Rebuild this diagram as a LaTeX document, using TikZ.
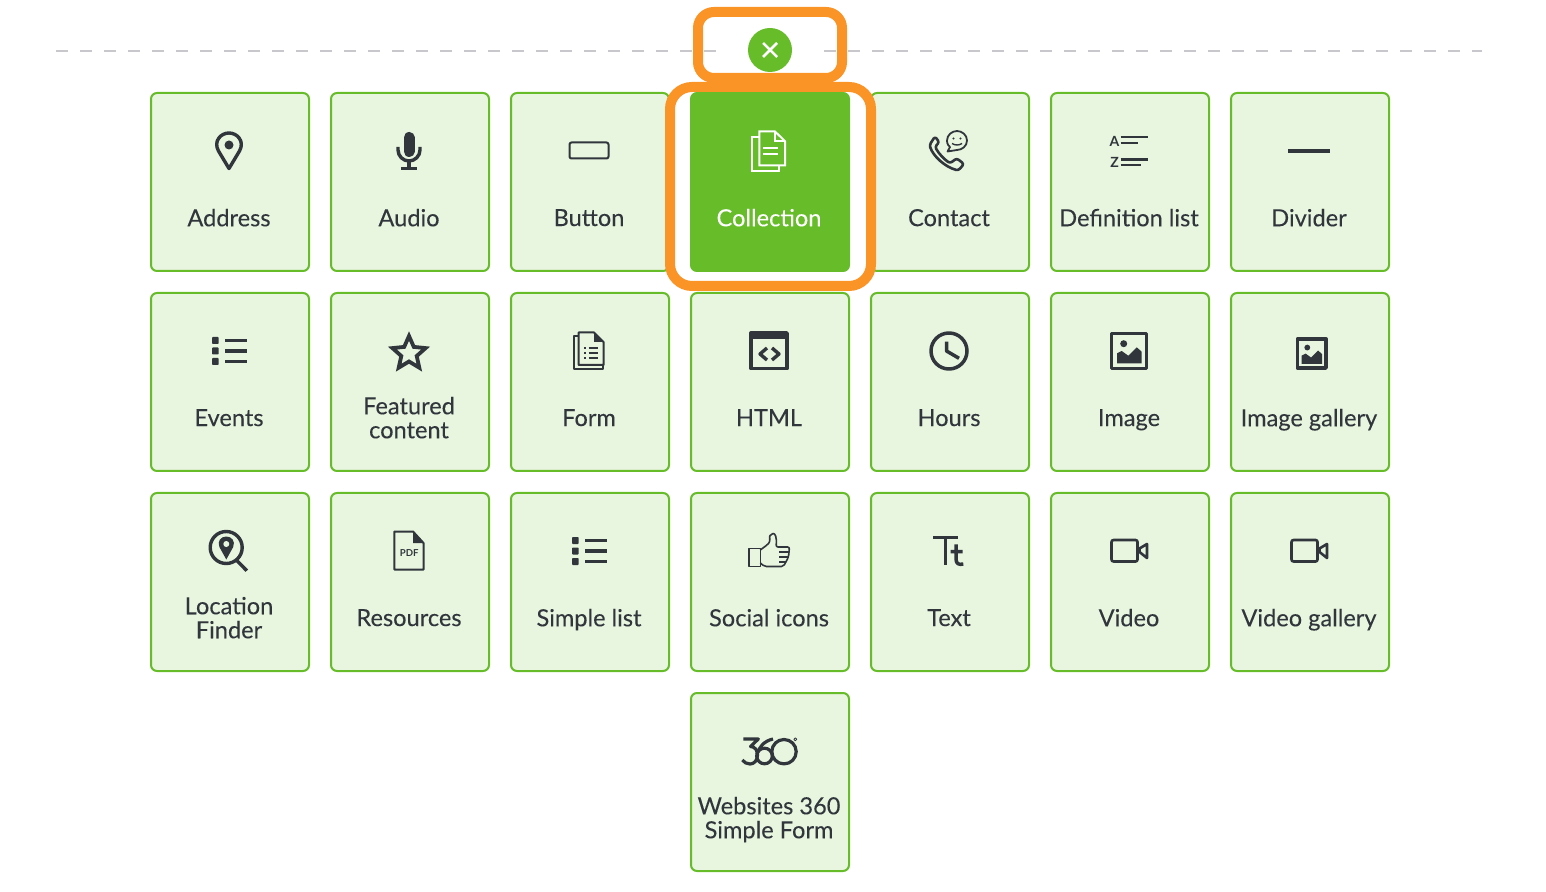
\documentclass[tikz,border=0pt]{standalone}
\usepackage{fontspec}
\setmainfont{Lato}
\newfontfamily\tilefont{Lato}[FakeBold=0.12]
\usetikzlibrary{positioning}
\definecolor{tilegreen}{HTML}{66BC29}
\definecolor{tilepale}{HTML}{E8F5DF}
\definecolor{calloutorange}{HTML}{FB9426}
\definecolor{inkdark}{HTML}{31363C}
\definecolor{rulegrey}{HTML}{C8C8CC}
\tikzstyle{tiletext} = [font=\tilefont\fontsize{11.8pt}{12pt}\selectfont, text=inkdark, align=center,
xshift=-0.5pt, yshift=-19.6pt, execute at begin node=\strut, execute at end node=\strut]
\tikzstyle{tile} = [rectangle, draw=tilegreen, fill=tilepale, line width=1pt, rounded corners=3pt,
minimum width=79pt, minimum height=89pt, label={[tiletext]center:#1}]
\tikzstyle{picked} = [rectangle, draw=tilegreen, fill=tilegreen, line width=1pt, rounded corners=3pt,
minimum width=79pt, minimum height=89pt, label={[tiletext, text=white]center:#1}]
\tikzstyle{callout} = [rectangle, draw=calloutorange, line width=5pt]
\tikzstyle{ink} = [draw=inkdark, line width=1.7pt, line join=round]
\tikzstyle{thin} = [draw=inkdark, line width=1pt, line join=round]
\tikzset{
  listicon/.pic={
    \foreach \y in {-9.5,1,11.5} {
      \fill[inkdark, rounded corners=0.4pt] (-18,\y-3.5) rectangle (-11.4,\y+3.5);
      \draw[ink] (-5,\y) -- (17,\y);
    }
  },
  picicon/.pic={
    \draw[ink] (-18.3,-16.6) rectangle (16.3,18.3);
    \fill[inkdark] (-6.3,-6.3) circle[radius=3.5];
    \fill[inkdark] (-13,13.3) -- (-13,3.3) -- (-8.3,1) -- (-1.7,5.7) -- (6.7,-2.7) -- (11.7,1.7) -- (11.7,13.3) -- cycle;
  },
  videoicon/.pic={
    \draw[ink, line width=1.3pt, rounded corners=1pt] (-18.5,-10) rectangle (7.5,11.5);
    \draw[ink, line width=1.3pt] (9.5,-1.5) -- (17,-6) -- (17,8) -- (9.5,2) -- cycle;
  },
  pinicon/.pic={
    \draw[ink] (-1,18.5) -- (-11.5,1) .. controls (-17,-9) and (-9,-17) .. (-1,-17) .. controls (7,-17) and (15,-9) .. (9.5,1) -- cycle;
    \fill[inkdark] (-1,-5) circle[radius=4.5];
  },
  micicon/.pic={
    \draw[ink, line width=5.5pt, line cap=round] (-1,-12.5) -- (-1,1.5);
    \draw[ink] (-12,-3) -- (-12,0) .. controls (-12,6) and (-7,11) .. (-1,11) .. controls (5,11) and (10,6) .. (10,0) -- (10,-3);
    \draw[ink] (-1,11) -- (-1,18);
    \fill[inkdark] (-9,17) rectangle (7,20);
  },
  buttonicon/.pic={
    \draw[thin, rounded corners=1pt] (-20.5,-7.5) rectangle (18.5,8.5);
  },
  contacticon/.pic={
    \draw[thin, line width=1.3pt, rounded corners=1.2pt] (-15,-13.5) -- (-10.7,-7.7) -- (-15,-3.3) .. controls (-11,4) and (-6,9) .. (0,13.3) -- (6.7,8.3) -- (14,14) -- (8.3,20.5) .. controls (-5,17) and (-17,6) .. (-20.5,-5) -- cycle;
    \draw[thin, line width=0.9pt] (0,-3) .. controls (-3,-5) and (-3,-9) .. (-3,-9.5) .. controls (-3,-15) and (2,-19) .. (7,-19) .. controls (12,-19) and (17,-15) .. (17,-9.5) .. controls (17,-4) and (12,0) .. (7,0) -- (-2.5,1.5) -- cycle;
    \fill[inkdark] (3.5,-11.5) circle[radius=1.2] (10.5,-11.5) circle[radius=1.2];
    \draw[thin, line width=0.7pt] (2,-6.5) .. controls (5,-4.5) and (9,-4.5) .. (12,-6.5);
  },
  deflisticon/.pic={
    \node (LetterA) [text=inkdark, font=\bfseries\fontsize{7pt}{7pt}\selectfont, inner sep=0pt] at (-15.5,-8.5) {A};
    \node (LetterZ) [text=inkdark, font=\bfseries\fontsize{7pt}{7pt}\selectfont, inner sep=0pt] at (-15.5,12.7) {Z};
    \draw[ink, line width=1.4pt] (-9.3,-13) -- (17.7,-13) (-9.3,-7) -- (7.7,-7) (-9.3,9.3) -- (17.7,9.3) (-9.3,15) -- (11,15);
  },
  dividericon/.pic={
    \draw[ink, line width=2pt] (-22,0.7) -- (20,0.7);
  },
  collectionicon/.pic={
    \draw[white, line width=1pt, line join=miter] (-10.7,-18.5) -- (5,-18.5) -- (15,-8.8) -- (15,15.5) -- (-10.7,15.5) -- cycle;
    \draw[white, line width=1pt] (5,-18.5) -- (5,-8.8) -- (15,-8.8);
    \draw[white, line width=1pt] (-10.7,-12.7) -- (-18,-12.7) -- (-18,21) -- (9.3,21) -- (9.3,15.5);
    \draw[white, line width=1pt] (-6.7,-2.3) -- (8.3,-2.3) (-6.7,4.3) -- (8.3,4.3);
  },
  starticon/.pic={
    \draw[ink, line width=1.9pt, line join=miter, shift={(-1,3.5)}] (0,-17.5) -- (4.8,-6.6) -- (16.6,-5.4) -- (7.7,2.5) -- (10.3,14.2) -- (0,8) -- (-10.3,14.2) -- (-7.7,2.5) -- (-16.6,-5.4) -- (-4.8,-6.6) -- cycle;
  },
  formicon/.pic={
    \draw[thin] (-11.5,-17.5) -- (4,-17.5) -- (13.5,-8) -- (13.5,15) -- (-11.5,15) -- cycle;
    \fill[inkdark] (4,-17.5) -- (13.5,-8) -- (4,-8) -- cycle;
    \draw[thin] (-11.5,-14) -- (-16,-14) -- (-16,19) -- (13,19) -- (13,15);
    \foreach \y in {-2,3,8} {
      \fill[inkdark] (-6,\y-1.1) rectangle (-3.8,\y+1.1);
      \draw[thin, line width=0.7pt] (-1.5,\y) -- (8,\y);
    }
  },
  htmlicon/.pic={
    \draw[ink] (-19,-17) rectangle (17,18.7);
    \fill[inkdark] (-20,-18.3) rectangle (18,-11);
    \draw[ink] (-3,-2) -- (-10,4) -- (-3,10) (2,-2) -- (9,4) -- (2,10);
  },
  clockicon/.pic={
    \draw[ink, line width=1.75pt] (-1,1) circle[radius=18];
    \draw[ink, line width=1.75pt] (-3.5,-8.3) -- (-3.5,1) -- (9,8.3);
  },
  findericon/.pic={
    \draw[ink] (-3.8,-2.5) circle[radius=16];
    \draw[ink] (6.3,10) -- (16.8,20.7);
    \fill[inkdark] (-3.7,9.5) -- (-10.6,-3) .. controls (-13,-9) and (-9,-13.5) .. (-3.7,-13.5) .. controls (1.6,-13.5) and (5.6,-9) .. (3.2,-3) -- cycle;
    \fill[tilepale] (-3.7,-6) circle[radius=3];
  },
  pdficon/.pic={
    \draw[thin] (-15.7,-18.5) -- (3,-18.5) -- (13.5,-7) -- (13.5,19.5) -- (-15.7,19.5) -- cycle;
    \fill[inkdark] (3,-18.5) -- (13.5,-7) -- (3,-7) -- cycle;
    \node (PdfMark) [text=inkdark, font=\bfseries\fontsize{4.8pt}{5pt}\selectfont, inner sep=0pt] at (-0.7,3.3) {PDF};
  },
  thumbicon/.pic={
    \draw[thin, line width=0.8pt] (-21,-1.5) rectangle (-9.7,16.5);
    \draw[thin, line width=0.8pt, rounded corners=1pt] (-9.7,0) -- (-3,-5) .. controls (1,-9) and (-1,-13) .. (1,-16) .. controls (5,-17) and (7,-13) .. (6,-3) -- (19.5,-3) -- (18.5,7) -- (16,11.7) -- (13.5,16.5) -- (-5.5,16.5) -- (-9.7,13);
    \draw[thin, line width=0.8pt] (9,1.7) -- (19,1.7) (9,6.7) -- (18.5,6.7) (9,11.7) -- (16,11.7);
  },
  ttglyph/.pic={
    \draw[ink, line width=1.75pt] (-16.7,-12.3) -- (7.7,-12.3) (-4.7,-12.3) -- (-4.7,15);
    \draw[ink, line width=1.75pt] (6,-5.7) -- (6,9) .. controls (6,14) and (9,15) .. (13.3,14) (0.7,1.7) -- (12.7,1.7);
  },
  logoicon/.pic={
    \draw[ink, line width=1.6pt] (-26.7,-11) -- (-11.7,-11) -- (-19.5,-3.5) .. controls (-15,-3.5) and (-12.5,0.5) .. (-12.5,5) .. controls (-12.5,10.5) and (-16,14) .. (-20,14) .. controls (-23,14) and (-26,12.5) .. (-27.7,10);
    \draw[ink, line width=1.6pt] (-5.5,6) circle[radius=7.8];
    \draw[ink, line width=1.6pt] (-13,4.5) .. controls (-11,-3) and (-6,-9) .. (3,-11);
    \draw[ink, line width=1.6pt] (14,1.7) circle[radius=12.2];
    \draw[thin, line width=0.4pt] (25.3,-10.7) circle[radius=1.5];
  }
}
\begin{document}
\begin{tikzpicture}[x=0.5pt, y=-0.5pt, node distance=90pt]
    \useasboundingbox (0,0) rectangle (1546,892);
    \node (Address) [tile=Address] at (230,182) {};
    \node (Audio) [tile=Audio, right of=Address] {};
    \node (Button) [tile=Button, right of=Audio] {};
    \node (Collection) [picked=Collection, right of=Button] {};
    \node (Contact) [tile=Contact, right of=Collection] {};
    \node (DefinitionList) [tile=Definition list, right of=Contact] {};
    \node (Divider) [tile=Divider, right of=DefinitionList] {};

    \node (Events) [tile=Events, below of=Address, node distance=100pt] {};
    \node (Featured) [tile={Featured\\content}, right of=Events] {};
    \node (Form) [tile=Form, right of=Featured] {};
    \node (Html) [tile=HTML, right of=Form] {};
    \node (Hours) [tile=Hours, right of=Html] {};
    \node (Image) [tile=Image, right of=Hours] {};
    \node (ImageGallery) [tile=Image gallery, right of=Image] {};

    \node (Finder) [tile={Location\\Finder}, below of=Events, node distance=100pt] {};
    \node (Resources) [tile=Resources, right of=Finder] {};
    \node (SimpleList) [tile=Simple list, right of=Resources] {};
    \node (Social) [tile=Social icons, right of=SimpleList] {};
    \node (Text) [tile=Text, right of=Social] {};
    \node (Video) [tile=Video, right of=Text] {};
    \node (VideoGallery) [tile=Video gallery, right of=Video] {};

    \node (SimpleForm) [tile={Websites 360\\Simple Form}, below of=Social, node distance=100pt] {};

    \pic at ([yshift=16pt]Address.center) {pinicon};
    \pic at ([yshift=16pt]Audio.center) {micicon};
    \pic at ([yshift=16pt]Button.center) {buttonicon};
    \pic at ([yshift=16pt]Collection.center) {collectionicon};
    \pic at ([yshift=16pt]Contact.center) {contacticon};
    \pic at ([yshift=16pt]DefinitionList.center) {deflisticon};
    \pic at ([yshift=16pt]Divider.center) {dividericon};
    \pic at ([yshift=16pt]Events.center) {listicon};
    \pic at ([yshift=16pt]Featured.center) {starticon};
    \pic at ([yshift=16pt]Form.center) {formicon};
    \pic at ([yshift=16pt]Html.center) {htmlicon};
    \pic at ([yshift=16pt]Hours.center) {clockicon};
    \pic at ([yshift=16pt]Image.center) {picicon};
    \pic[scale=.83] at ([xshift=1.25pt,yshift=14.6pt]ImageGallery.center) {picicon};
    \pic at ([yshift=16pt]Finder.center) {findericon};
    \pic at ([yshift=16pt]Resources.center) {pdficon};
    \pic at ([yshift=16pt]SimpleList.center) {listicon};
    \pic at ([yshift=16pt]Social.center) {thumbicon};
    \pic at ([yshift=16pt]Text.center) {ttglyph};
    \pic at ([yshift=16pt]Video.center) {videoicon};
    \pic at ([yshift=16pt]VideoGallery.center) {videoicon};
    \pic at ([yshift=16pt]SimpleForm.center) {logoicon};

    % top rule, cut open round the close button
    \coordinate (RuleLeft) at (56,50.7);
    \coordinate (RuleRight) at (1482,50.7);
    \draw [rulegrey, line width=1pt, dash pattern=on 6pt off 6pt] (RuleLeft) -- (RuleRight);
    \node (RuleGap) [rectangle, fill=white, minimum width=54pt, minimum height=20pt, inner sep=0pt] at (770,50) {};
    \node (Close) [circle, fill=tilegreen, minimum size=22pt, inner sep=0pt] at (770,50) {};
    \draw [white, line width=1.25pt] ([xshift=-3.5pt,yshift=3.5pt]Close.center) -- ([xshift=3.5pt,yshift=-3.5pt]Close.center);
    \draw [white, line width=1.25pt] ([xshift=-3.5pt,yshift=-3.5pt]Close.center) -- ([xshift=3.5pt,yshift=3.5pt]Close.center);

    \node (CloseMark) [callout, rounded corners=8pt, minimum width=72pt, minimum height=33pt, inner sep=0pt] at (770,45) {};
    \node (CollectionMark) [callout, rounded corners=11pt, minimum width=100.5pt, minimum height=99.5pt, inner sep=0pt] at (770.5,186.5) {};
\end{tikzpicture}
\end{document}
